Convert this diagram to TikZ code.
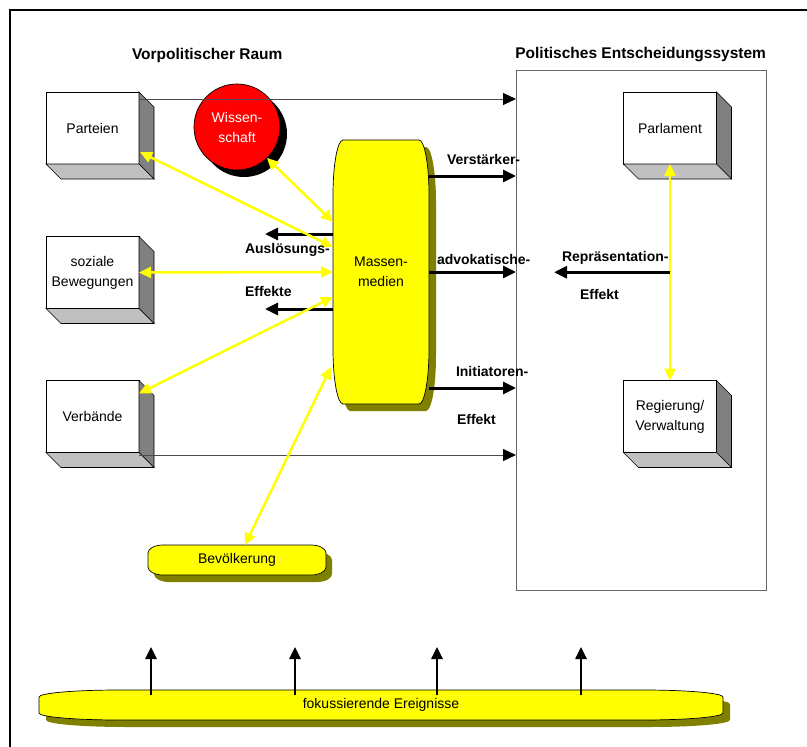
\documentclass[tikz,border=0pt]{standalone}
\usepackage{fontspec}
\setmainfont{Liberation Sans}
\usetikzlibrary{arrows.meta,calc,shadows}
\definecolor{mmyellow}{HTML}{FFFF00}
\definecolor{shadowolive}{HTML}{808000}
\definecolor{sidegray}{HTML}{808080}
\definecolor{floorgray}{HTML}{C0C0C0}
\definecolor{wred}{HTML}{FF0000}
% slab with elliptic corners: style, x0, y0, x1, y1, rx, ry
\newcommand\slab[7]{%
  \path[#1] ({#2+#6},#3) -- ({#4-#6},#3)
    .. controls ({#4-0.448*#6},#3) and (#4,{#3+0.448*#7}) .. (#4,{#3+#7})
    -- (#4,{#5-#7})
    .. controls (#4,{#5-0.448*#7}) and ({#4-0.448*#6},#5) .. ({#4-#6},#5)
    -- ({#2+#6},#5)
    .. controls ({#2+0.448*#6},#5) and (#2,{#5-0.448*#7}) .. (#2,{#5-#7})
    -- (#2,{#3+#7})
    .. controls (#2,{#3+0.448*#7}) and ({#2+0.448*#6},#3) .. cycle;}
\begin{document}
\begin{tikzpicture}[x=1pt,y=-1pt,
  every node/.style={font=\fontsize{14}{20}\selectfont, inner sep=0pt, outer sep=0pt},
  box3d/.style={draw=black, line width=0.7pt, fill=white, minimum width=93pt, minimum height=72pt, align=center},
  lbl/.style={font=\bfseries\fontsize{14}{17}\selectfont, anchor=base west},
  ttl/.style={font=\bfseries\fontsize{15.5}{18}\selectfont},
  heavyarrow/.style={line width=3pt, -{Triangle[length=13pt,width=12pt]}},
  eventarrow/.style={line width=2.5pt, -{Triangle[length=12pt,width=11pt]}},
  linkarrow/.style={draw=black!70, line width=0.8pt, -{Triangle[length=13pt,width=12pt,color=black]}},
  yarrow/.style={draw=mmyellow, line width=2.5pt, {Triangle[length=12pt,width=11pt]}-{Triangle[length=12pt,width=11pt]}},
]
\useasboundingbox (0,0) rectangle (807,747);
\clip (0,0) rectangle (807,747);

% outer frame
\draw[line width=2pt] (10,760) -- (10,10) -- (820,10);

% headings
\node[ttl, anchor=base west] (t1) at (132,59) {Vorpolitischer Raum};
\node[ttl, anchor=base east] (t2) at (766,58.5) {Politisches Entscheidungssystem};

% political decision system
\node[draw=black!60, line width=0.8pt, minimum width=250pt, minimum height=520pt] (sys) at (641,330) {};

% 3D boxes
\node[box3d] (pt) at (92.5,128) {Parteien};
\node[box3d] (sb) at (92.5,272.5) {soziale\\Bewegungen};
\node[box3d] (vb) at (92.5,416.5) {Verbände};
\node[box3d] (pa) at (670,128) {Parlament};
\node[box3d] (rg) at (670,416.5) {Regierung/\\Verwaltung};
\foreach \b in {pt,sb,vb,pa,rg}{
  \filldraw[fill=sidegray, draw=black, line width=0.7pt]
    (\b.north east) -- ($(\b.north east)+(15,15)$) -- ($(\b.south east)+(15,15)$) -- (\b.south east) -- cycle;
  \filldraw[fill=floorgray, draw=black, line width=0.7pt]
    (\b.south west) -- (\b.south east) -- ($(\b.south east)+(15,15)$) -- ($(\b.south west)+(15,15)$) -- cycle;
}

% Wissenschaft
\node[circle, minimum size=86pt, fill=wred, draw=black, line width=0.7pt, text=white, align=center,
      drop shadow={shadow xshift=7pt, shadow yshift=-7pt, opacity=1, fill=black}] (ws) at (237,127) {Wissen-\\schaft};

% rounded slabs with shadows
\slab{fill=shadowolive}{340}{147}{436}{411}{10}{55}
\slab{fill=mmyellow, draw=black, line width=0.7pt}{333}{140}{429}{404}{10}{55}
\slab{fill=shadowolive}{154}{552}{332}{582}{15}{8}
\slab{fill=mmyellow, draw=black, line width=0.7pt}{148}{545}{326}{575}{15}{8}
\slab{fill=shadowolive}{46}{697}{730}{727}{80}{7}
\slab{fill=mmyellow, draw=black, line width=0.7pt}{39}{690}{723}{720}{80}{7}

\node[minimum width=96pt, minimum height=264pt, align=center] (mm) at (381,272) {Massen-\\medien};
\node[minimum width=178pt, minimum height=30pt] (bev) at (237,560) {Bevölkerung};
\node[minimum width=684pt, minimum height=30pt] (fok) at (381,705) {fokussierende Ereignisse};

% links into the decision system
\coordinate (ptout) at ($(pt.north east)+(0,7)$);
\coordinate (vbout) at ($(vb.south east)+(0,2.5)$);
\draw[linkarrow] (ptout) -- (ptout -| sys.west);
\draw[linkarrow] (vbout) -- (vbout -| sys.west);

% media effects on the system
\coordinate (vs) at ($(mm.east)+(0,-96)$);
\coordinate (ad) at (mm.east);
\coordinate (ini) at ($(mm.east)+(0,116)$);
\draw[heavyarrow] (vs) -- (vs -| sys.west);
\draw[heavyarrow] (ad) -- (ad -| sys.west);
\draw[heavyarrow] (ini) -- (ini -| sys.west);

% trigger effects
\coordinate (al) at ($(mm.west)+(0,-38)$);
\coordinate (alt) at ($(al)+(-68,0)$);
\coordinate (ef) at ($(mm.west)+(0,37)$);
\coordinate (eft) at ($(ef)+(-68,0)$);
\draw[heavyarrow] (al) -- (alt);
\draw[heavyarrow] (ef) -- (eft);

% representation effect
\coordinate (rp) at ($(pa.south)!0.5!(rg.north)$);
\coordinate (rpt) at ($(rp)+(-116,0)$);

% yellow exchanges
\draw[yarrow] ($(pt.south east)+(1,-12)$) -- ($(mm.west)+(0,-25)$);
\draw[yarrow] (ws.-46) -- ($(mm.west)+(0,-50)$);
\draw[yarrow] (sb.east) -- (mm.west);
\draw[yarrow] ($(vb.north east)+(0,13)$) -- ($(mm.west)+(0,25)$);
\draw[yarrow] ($(bev.north)+(8,0)$) -- ($(mm.south west)+(-2,-37)$);
\draw[yarrow] (pa.south) -- (rg.north);
\draw[heavyarrow] (rp) -- (rpt);

% focusing events
\foreach \dx [count=\i] in {-230,-86,56,200}{
  \coordinate (b\i) at ($(fok.north)+(\dx,5)$);
  \coordinate (e\i) at ($(b\i)+(0,-48)$);
  \draw[eventarrow] (b\i) -- (e\i);
}

% labels
\node[lbl] (l1) at (447,164) {Verstärker-};
\node[lbl] (l2) at (437,264) {advokatische-};
\node[lbl] (l3) at (456,376.5) {Initiatoren-};
\node[lbl] (l4) at (457,424) {Effekt};
\node[lbl] (l5) at (245,253) {Auslösungs-};
\node[lbl] (l6) at (245,296.5) {Effekte};
\node[lbl] (l7) at (562,261) {Repräsentation-};
\node[lbl] (l8) at (580,299) {Effekt};
\end{tikzpicture}
\end{document}
